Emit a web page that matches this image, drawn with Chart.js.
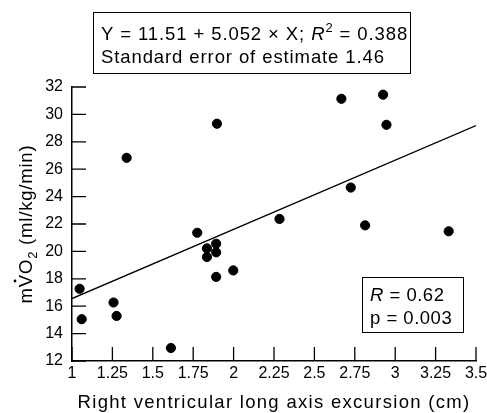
<!DOCTYPE html>
<html>
<head>
<meta charset="utf-8">
<script src="https://cdn.jsdelivr.net/npm/chart.js@4"></script>
<style>
  html, body { margin: 0; padding: 0; background: #fff; }
  #wrap { width: 487px; height: 413px; }
</style>
</head>
<body>
<div id="wrap"><canvas id="myChart_vo2" width="487" height="413"></canvas></div>
<script>
// excursion (cm) vs peak VO2
const excursion = [1.047, 1.06, 1.338, 1.257, 1.276, 1.612, 1.775, 1.835, 1.835, 1.892, 1.892, 1.892, 1.998,
  1.897, 2.667, 2.925, 2.946, 2.284, 2.725, 2.814, 3.331];
const vo2 = [17.27, 15.05, 26.83, 16.27, 15.29, 12.95, 21.36, 20.22, 19.59, 20.56, 19.93, 18.14, 18.61,
  29.32, 31.14, 31.44, 29.24, 22.37, 24.66, 21.9, 21.47];

// regression line end points (Y = 11.51 + 5.052X)
const fitX = [1, 3.5];
const fitY = [16.56, 29.19];

const xTicks = [1, 1.25, 1.5, 1.75, 2, 2.25, 2.5, 2.75, 3, 3.25, 3.5];
const yTicks = [12, 14, 16, 18, 20, 22, 24, 26, 28, 30, 32];

const xTitle = 'Right ventricular long axis excursion (cm)';
const FONT = '"Liberation Sans", Arial, sans-serif';
const F = (size, style) => (style ? style + ' ' : '') + size + 'px ' + FONT;

// inward ticks, axis titles and the two text boxes
const extras = {
  id: 'extras',
  afterDraw(chart) {
    const ctx = chart.ctx;
    const xs = chart.scales.x, ys = chart.scales.y;
    const area = chart.chartArea;
    ctx.save();
    ctx.strokeStyle = '#000';
    ctx.fillStyle = '#000';
    ctx.lineWidth = 1.3;
    ctx.beginPath();
    xTicks.forEach((t) => {
      const px = xs.getPixelForValue(t);
      ctx.moveTo(px, area.bottom);
      ctx.lineTo(px, area.bottom - 14);
    });
    yTicks.forEach((t) => {
      const py = ys.getPixelForValue(t);
      ctx.moveTo(area.left, py);
      ctx.lineTo(area.left + 14, py);
    });
    ctx.stroke();

    ctx.textBaseline = 'alphabetic';
    ctx.textAlign = 'left';

    // x title
    ctx.letterSpacing = '1.3px';
    ctx.font = F(18.5);
    const w = ctx.measureText(xTitle).width;
    ctx.fillText(xTitle, (area.left + area.right) / 2 - w / 2, 408);

    // y title, rotated
    ctx.save();
    ctx.translate(32, (area.top + area.bottom) / 2);
    ctx.rotate(-Math.PI / 2);
    ctx.letterSpacing = '0.8px';
    const parts = [
      ['m', F(18.5), 0],
      ['V', F(18.5), 0],
      ['O', F(18.5), 0],
      ['2', F(13), 5],
      [' (ml/kg/min)', F(18.5), 0],
    ];
    let tw = 0;
    parts.forEach((p) => { ctx.font = p[1]; tw += ctx.measureText(p[0]).width; });
    let cx = -tw / 2;
    parts.forEach((p) => {
      ctx.font = p[1];
      const pw = ctx.measureText(p[0]).width;
      ctx.fillText(p[0], cx, p[2]);
      if (p[0] === 'V') {
        ctx.beginPath();
        ctx.arc(cx + (pw - 0.8) / 2, -17, 1.4, 0, Math.PI * 2);
        ctx.fill();
      }
      cx += pw;
    });
    ctx.restore();

    // top box
    ctx.lineWidth = 1;
    ctx.strokeRect(93.5, 12.5, 317, 61);
    ctx.letterSpacing = '0.9px';
    let x = 101;
    const put = (s, font, y) => {
      ctx.font = font;
      ctx.fillText(s, x, y);
      x += ctx.measureText(s).width;
    };
    put('Y = 11.51 + 5.052 \u00d7 X; ', F(18.5), 40);
    put('R', F(18.5, 'italic'), 40);
    put('2', F(13), 32);
    put(' = 0.388', F(18.5), 40);
    ctx.font = F(18.5);
    ctx.fillText('Standard error of estimate 1.46', 101, 63);

    // bottom right box
    ctx.strokeRect(362.5, 277.5, 101, 55);
    ctx.letterSpacing = '0.5px';
    x = 370;
    put('R', F(18.5, 'italic'), 301);
    put(' = 0.62', F(18.5), 301);
    ctx.font = F(18.5);
    ctx.fillText('p = 0.003', 370, 324);
    ctx.restore();
  }
};

const ctx = document.getElementById('myChart_vo2').getContext('2d');
new Chart(ctx, {
  type: 'scatter',
  data: {
    datasets: [
      {
        label: 'patients',
        data: excursion.map((v, i) => ({ x: v, y: vo2[i] })),
        backgroundColor: '#000',
        borderColor: '#000',
        pointRadius: 4.6,
        pointHoverRadius: 4.6,
      },
      {
        label: 'fit',
        type: 'line',
        data: fitX.map((v, i) => ({ x: v, y: fitY[i] })),
        borderColor: '#000',
        borderWidth: 1.3,
        pointRadius: 0,
        fill: false,
      },
    ],
  },
  options: {
    responsive: false,
    animation: false,
    devicePixelRatio: 1,
    layout: { autoPadding: false, padding: { top: 87, right: 11, left: 0, bottom: 0 } },
    plugins: { legend: { display: false }, tooltip: { enabled: false } },
    scales: {
      x: {
        type: 'linear',
        min: 1,
        max: 3.5,
        afterBuildTicks: (s) => { s.ticks = xTicks.map((v) => ({ value: v })); },
        grid: { display: false, drawTicks: false },
        border: { display: true, color: '#000', width: 1.5 },
        ticks: { color: '#000', font: { family: FONT, size: 16 }, padding: 3, maxRotation: 0,
          callback: (v) => String(v) },
        afterFit: (s) => { s.height = 52; s.paddingLeft = 0; s.paddingRight = 0; },
      },
      y: {
        type: 'linear',
        min: 12,
        max: 32,
        afterBuildTicks: (s) => { s.ticks = yTicks.map((v) => ({ value: v })); },
        grid: { display: false, drawTicks: false },
        border: { display: true, color: '#000', width: 1.5 },
        ticks: { color: '#000', font: { family: FONT, size: 16 }, padding: 9 },
        afterFit: (s) => { s.width = 72; s.paddingTop = 0; s.paddingBottom = 0; },
      },
    },
  },
  plugins: [extras],
});
</script>
</body>
</html>
